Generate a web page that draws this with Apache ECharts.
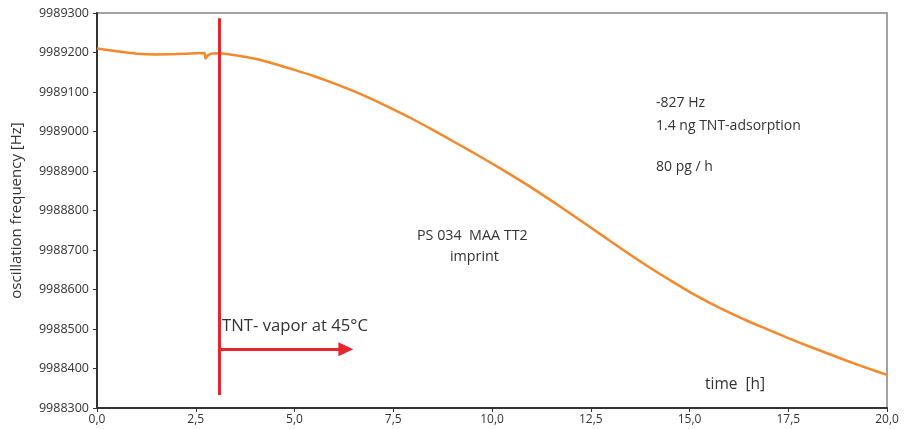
<!DOCTYPE html>
<html><head><meta charset="utf-8">
<script src="https://cdn.jsdelivr.net/npm/echarts@6/dist/echarts.min.js"></script>
<style>html,body{margin:0;padding:0;background:#fff}#c{width:908px;height:429px}</style>
</head><body><div id="c"></div>
<script>
// time [h]
var timeH = [0,0.5,1.0,1.5,2.0,2.5,2.72,2.75,2.8,2.9,3.1,3.5,4.0,4.5,5.0,5.5,6.0,6.5,7.0,7.5,8.0,8.5,9.0,9.5,10.0,10.5,11.0,11.5,12.0,12.5,13.0,13.5,14.0,14.5,15.0,15.5,16.0,16.5,17.0,17.5,18.0,18.5,19.0,19.5,20.0];
// oscillation frequency [Hz]
var freqHz = [9989210,9989203,9989197,9989195,9989196,9989198,9989199,9989185,9989192,9989197,9989198,9989193,9989184,9989171,9989156,9989140,9989122,9989102,9989080,9989056,9989031,9989004,9988976,9988948,9988919,9988889,9988858,9988825,9988791,9988757,9988722,9988688,9988655,9988624,9988594,9988567,9988542,9988519,9988498,9988477,9988457,9988438,9988419,9988401,9988384];
// vapor start marker
var vaporStart = [3.09];
var vaporLineY = [9988333, 9989287];
var arrowY = [9988449];
var arrowEnd = [6.30];
var xTicks = [0, 2.5, 5, 7.5, 10, 12.5, 15, 17.5, 20];
var yRange = [9988300, 9989300];

var series = timeH.map(function(t,i){return [t, freqHz[i]];});
var FONT = 'Open Sans';
var chart = echarts.init(document.getElementById('c'));
chart.setOption({
  animation:false,
  backgroundColor:'#fff',
  grid:{left:97,right:21,top:13,bottom:21,outerBoundsMode:'none',containLabel:false,show:true,borderColor:'#a3a3a3',borderWidth:2,backgroundColor:'transparent'},
  xAxis:{type:'value',min:xTicks[0],max:xTicks[xTicks.length-1],interval:2.5,
    axisLine:{lineStyle:{color:'#333',width:2}},
    axisTick:{show:true,length:4,lineStyle:{color:'#333',width:1}},
    splitLine:{show:false},
    axisLabel:{color:'#333',fontFamily:FONT,fontSize:12,margin:6,
      formatter:function(v){return v.toFixed(1).replace('.',',');}}},
  yAxis:{type:'value',min:yRange[0],max:yRange[1],interval:100,scale:true,
    name:'oscillation frequency [Hz]',nameLocation:'middle',nameGap:73,
    nameTextStyle:{color:'#333',fontFamily:FONT,fontSize:15},
    axisLine:{show:true,lineStyle:{color:'#333',width:2}},
    axisTick:{show:true,length:4,lineStyle:{color:'#333',width:1}},
    splitLine:{show:false},
    axisLabel:{color:'#333',fontFamily:FONT,fontSize:12.5,margin:8,
      formatter:function(v){return String(v);}}},
  series:[
    {type:'line',data:series,showSymbol:false,smooth:0.25,
     lineStyle:{color:'#f5882a',width:2.5},
     markLine:{silent:true,animation:false,label:{show:false},
       data:[
         [{coord:[vaporStart[0],vaporLineY[0]],symbol:'none'},{coord:[vaporStart[0],vaporLineY[1]],symbol:'none'}],
         [{coord:[vaporStart[0],arrowY[0]],symbol:'none'},{coord:[arrowEnd[0],arrowY[0]],symbol:'triangle',symbolSize:[14,15]}]
       ],
       lineStyle:{color:'#e8242c',width:3,type:'solid'},
       itemStyle:{color:'#e8242c'}
     }}
  ],
  graphic:[
    {type:'text',left:222,top:318,style:{text:'TNT- vapor at 45°C',font:'16.7px '+FONT,fill:'#333'}},
    {type:'text',left:656,top:96,style:{text:'-827 Hz',font:'14px '+FONT,fill:'#333'}},
    {type:'text',left:656,top:119,style:{text:'1.4 ng TNT-adsorption',font:'14px '+FONT,fill:'#333'}},
    {type:'text',left:656,top:160,style:{text:'80 pg / h',font:'14px '+FONT,fill:'#333'}},
    {type:'text',left:417,top:229,style:{text:'PS 034  MAA TT2',font:'14.3px '+FONT,fill:'#333'}},
    {type:'text',left:450,top:250,style:{text:'imprint',font:'14.3px '+FONT,fill:'#333'}},
    {type:'text',left:705,top:377,style:{text:'time  [h]',font:'15.5px '+FONT,fill:'#333'}}
  ]
});
</script></body></html>
